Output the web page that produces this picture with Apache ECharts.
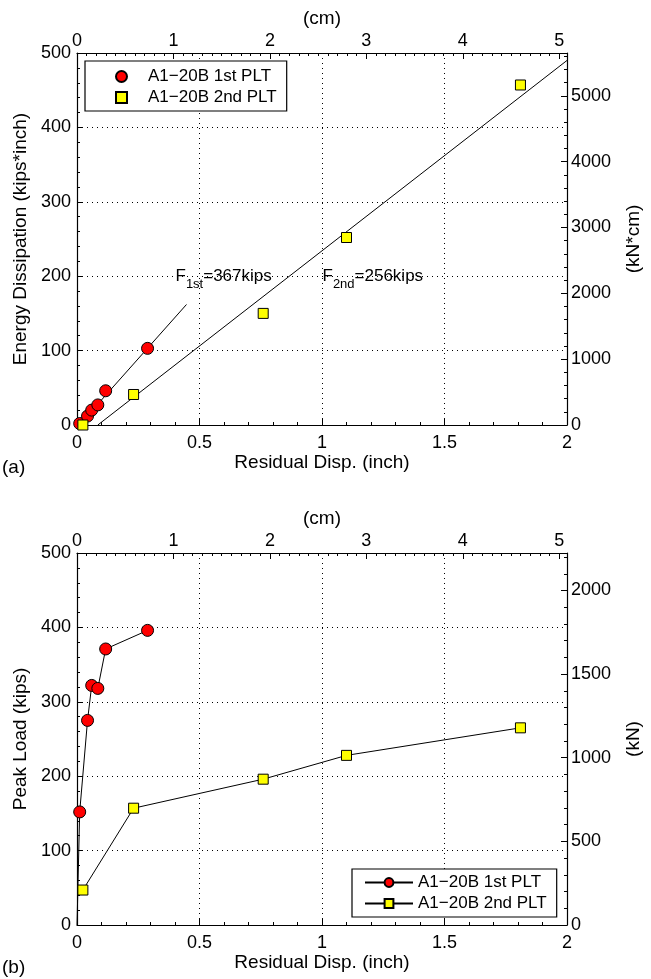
<!DOCTYPE html>
<html><head><meta charset="utf-8">
<script src="https://cdn.jsdelivr.net/npm/echarts@6/dist/echarts.min.js"></script>
<style>html,body{margin:0;padding:0;background:#fff}#c{width:651px;height:979px}</style>
</head><body><div id="c"></div>
<script>
const FONT = '"Liberation Sans", Arial, Helvetica, sans-serif';
const seriesNames = ['A1\u221220B 1st PLT', 'A1\u221220B 2nd PLT'];
// residual displacement (inch)
const dispFirst = [0.011, 0.043, 0.06, 0.085, 0.117, 0.288];
const dispSecond = [0.024, 0.231, 0.76, 1.1, 1.81];
// energy dissipation (kips*inch)
const energyFirst = [2, 12, 20, 27, 46, 103];
const energySecond = [0, 41, 150, 252, 457];
// peak load (kips)
const loadFirst = [152, 275, 322, 318, 371, 396];
const loadSecond = [47, 157, 196, 228, 265];
// fitted lines (inch, kips*inch)
const fitFirst = [[0.009, 0], [0.447, 162]];
const fitSecond = [[0.085, 0], [2.0, 490]];
const annotations = [
  { x: 0.40, y: 200, sub: '1st', rest: '=367kips' },
  { x: 1.00, y: 200, sub: '2nd', rest: '=256kips' }
];
// axes
const inchTicks = [0, 0.5, 1, 1.5, 2];
const cmTicks = [0, 1, 2, 3, 4, 5];
const kipsTicks = [0, 100, 200, 300, 400, 500];
const kNcmTicks = [0, 1000, 2000, 3000, 4000, 5000];
const kNTicks = [0, 500, 1000, 1500, 2000];
const IN2CM = 2.54, KIP2KN = 4.448222;

const TICK = 18, NAME = 19, LEG = 17, ANN = 17;
const txt = { color: '#000', fontFamily: FONT, fontSize: TICK };
const nameTxt = { color: '#000', fontFamily: FONT, fontSize: NAME };
const line = { lineStyle: { color: '#000', width: 1 } };
const fmt = v => String(Math.round(v * 1000) / 1000);

function axisBase(opts) {
  return Object.assign({
    type: 'value',
    axisLine: { show: true, onZero: false, lineStyle: { color: '#000', width: 1.2 } },
    axisTick: { show: true, inside: true, length: 6, lineStyle: { color: '#000' } },
    minorTick: { show: true, splitNumber: 5, length: 3, lineStyle: { color: '#000' } },
    splitLine: { show: false },
    nameTextStyle: nameTxt
  }, opts);
}
const dotted = { show: true, lineStyle: { color: '#000', type: [1, 4], width: 1 } };

function xAxes(gi, nameBottom) {
  return [
    axisBase({ gridIndex: gi, position: 'bottom', min: inchTicks[0], max: inchTicks[inchTicks.length - 1],
      interval: inchTicks[1] - inchTicks[0], splitLine: dotted,
      name: nameBottom, nameLocation: 'middle', nameGap: 28,
      axisLabel: Object.assign({ margin: 9, formatter: fmt }, txt) }),
    axisBase({ gridIndex: gi, position: 'top', min: 0, max: inchTicks[inchTicks.length - 1] * IN2CM,
      interval: cmTicks[1] - cmTicks[0], name: '(cm)', nameLocation: 'middle', nameGap: 25,
      minorTick: { show: true, splitNumber: 10, length: 3, lineStyle: { color: '#000' } },
      axisLabel: Object.assign({ margin: 3, showMaxLabel: false, formatter: fmt }, txt) })
  ];
}
function yAxes(gi, nameLeft, nameRight, rightTicks, factor) {
  return [
    axisBase({ gridIndex: gi, position: 'left', min: kipsTicks[0], max: kipsTicks[kipsTicks.length - 1],
      interval: kipsTicks[1] - kipsTicks[0], splitLine: dotted,
      name: nameLeft, nameLocation: 'middle', nameGap: 47, nameRotate: 90,
      axisLabel: Object.assign({ margin: 6, formatter: fmt }, txt) }),
    axisBase({ gridIndex: gi, position: 'right', min: 0, max: kipsTicks[kipsTicks.length - 1] * factor,
      interval: rightTicks[1] - rightTicks[0],
      name: nameRight, nameLocation: 'middle', nameGap: 57, nameRotate: 90,
      axisLabel: Object.assign({ margin: 4, showMaxLabel: false, formatter: fmt }, txt) })
  ];
}

const redSym = { color: '#ff0000', borderColor: '#000', borderWidth: 1, opacity: 1 };
const yelSym = { color: '#ffff00', borderColor: '#000', borderWidth: 1, opacity: 1 };
const zip = (a, b) => a.map((v, i) => [v, b[i]]);

const annotSeries = {
  type: 'scatter', xAxisIndex: 0, yAxisIndex: 0, symbolSize: 1, silent: true, z: 5,
  itemStyle: { color: 'rgba(0,0,0,0)', opacity: 1 },
  label: { show: true, color: '#000', opacity: 1 },
  data: annotations.map(a => ({
    value: [a.x, a.y],
    label: {
      show: true, position: 'right', distance: 0, color: '#000',
      formatter: '{a|F}{b|' + a.sub + '}{a|' + a.rest + '}',
      rich: {
        a: { fontFamily: FONT, fontSize: ANN, color: '#000', lineHeight: 30, verticalAlign: 'middle' },
        b: { fontFamily: FONT, fontSize: 13, color: '#000', lineHeight: 15, verticalAlign: 'bottom' }
      }
    }
  }))
};

const legendCommon = {
  orient: 'vertical', itemGap: 4,
  backgroundColor: '#fff', borderColor: '#000', borderWidth: 1.2, borderRadius: 0,
  selectedMode: false
};

const option = {
  animation: false,
  backgroundColor: '#fff',
  grid: [
    { left: 77, right: 77, top: 53, height: 372, containLabel: false },
    { left: 77, right: 77, top: 553, height: 372, containLabel: false }
  ],
  xAxis: [...xAxes(0, 'Residual Disp. (inch)'), ...xAxes(1, 'Residual Disp. (inch)')],
  yAxis: [
    ...yAxes(0, 'Energy Dissipation (kips*inch)', '(kN*cm)', kNcmTicks, IN2CM * KIP2KN),
    ...yAxes(1, 'Peak Load (kips)', '(kN)', kNTicks, KIP2KN)
  ],
  legend: [
    Object.assign({}, legendCommon, {
      data: [{ name: seriesNames[0], icon: 'circle' }, { name: seriesNames[1], icon: 'rect' }],
      itemWidth: 11, itemHeight: 11, left: 85, top: 61, padding: [7, 10, 5, 30],
      textStyle: { color: '#000', fontFamily: FONT, fontSize: LEG, padding: [0, 0, 0, 16] } }),
    Object.assign({}, legendCommon, { data: [seriesNames[0] + ' ', seriesNames[1] + ' '],
      itemWidth: 48, itemHeight: 11, left: 352, top: 869, padding: [5, 10, 5, 12],
      textStyle: { color: '#000', fontFamily: FONT, fontSize: LEG },
      formatter: n => n.trim() })
  ],
  series: [
    { name: 'fit1', type: 'line', xAxisIndex: 0, yAxisIndex: 0, data: fitFirst, symbol: 'none', ...line, z: 2, silent: true },
    { name: 'fit2', type: 'line', xAxisIndex: 0, yAxisIndex: 0, data: fitSecond, symbol: 'none', ...line, z: 2, silent: true },
    { name: seriesNames[0], type: 'scatter', xAxisIndex: 0, yAxisIndex: 0, data: zip(dispFirst, energyFirst),
      symbol: 'circle', symbolSize: 12, itemStyle: redSym, z: 3 },
    { name: seriesNames[1], type: 'scatter', xAxisIndex: 0, yAxisIndex: 0, data: zip(dispSecond, energySecond),
      symbol: 'rect', symbolSize: 10, itemStyle: yelSym, z: 3 },
    annotSeries,
    { name: seriesNames[0] + ' ', type: 'line', xAxisIndex: 2, yAxisIndex: 2,
      data: [{ value: [0, 0], symbol: 'none' }].concat(zip(dispFirst, loadFirst)),
      symbol: 'circle', symbolSize: 12, showAllSymbol: true, itemStyle: redSym, ...line, z: 3 },
    { name: seriesNames[1] + ' ', type: 'line', xAxisIndex: 2, yAxisIndex: 2,
      data: zip(dispSecond, loadSecond),
      symbol: 'rect', symbolSize: 10, showAllSymbol: true, itemStyle: yelSym, ...line, z: 3 }
  ],
  graphic: [
    { type: 'text', left: 2, top: 458, style: { text: '(a)', fill: '#000', font: NAME + 'px ' + FONT } },
    { type: 'text', left: 2, top: 958, style: { text: '(b)', fill: '#000', font: NAME + 'px ' + FONT } }
  ]
};
const chart = echarts.init(document.getElementById('c'), null, { renderer: 'canvas' });
chart.setOption(option);
</script></body></html>
